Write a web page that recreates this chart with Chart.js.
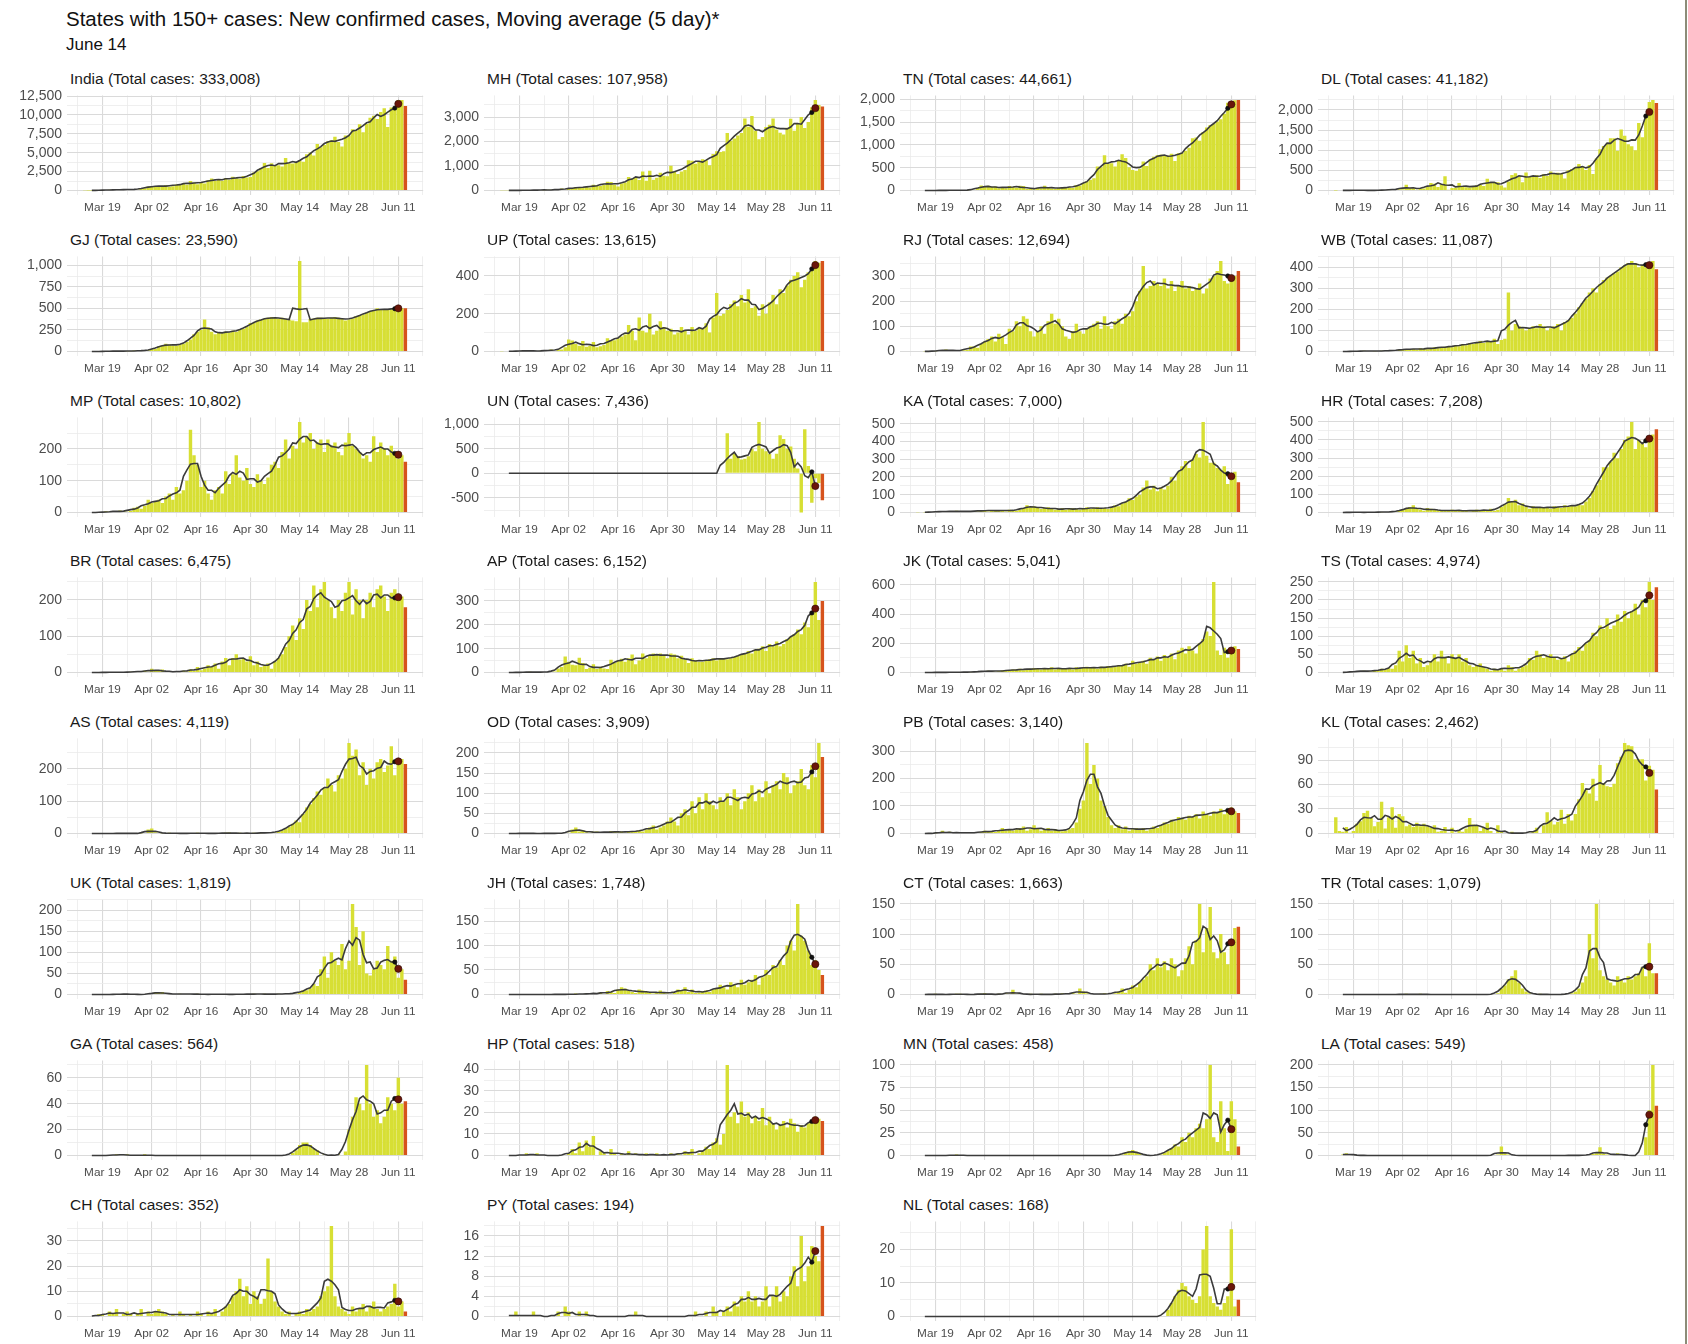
<!DOCTYPE html>
<html><head><meta charset="utf-8">
<script src="https://cdn.jsdelivr.net/npm/chart.js@4.4.1/dist/chart.umd.min.js"></script>
<style>
html,body{margin:0;padding:0;background:#fff;}
body{width:1688px;height:1344px;overflow:hidden;position:relative;font-family:"Liberation Sans",Arial,Helvetica,sans-serif;}
#mt{position:absolute;left:66px;top:7px;font-size:20.5px;color:#111;white-space:nowrap;}
#st{position:absolute;left:66px;top:35px;font-size:17px;color:#111;white-space:nowrap;}
.pt{position:absolute;font-size:15.5px;color:#1a1a1a;white-space:nowrap;line-height:18px;}
#edge{position:absolute;left:1685px;top:0;width:2px;height:1344px;background:#8c8c78;}
canvas{position:absolute;}
</style></head>
<body>
<div id="mt">States with 150+ cases: New confirmed cases, Moving average (5 day)*</div>
<div id="st">June 14</div>
<div id="edge"></div>
<script>
// ---- x axis: day 0 = Mar 14, last day (91) = Jun 13 ----
const firstDate = 'Mar 14';
const xTickDays = [5, 19, 33, 47, 61, 75, 89];
const xTickLabels = ['Mar 19', 'Apr 02', 'Apr 16', 'Apr 30', 'May 14', 'May 28', 'Jun 11'];

const states = ['India','MH','TN','DL','GJ','UP','RJ','WB','MP','UN','KA','HR','BR','AP','JK','TS',
  'AS','OD','PB','KL','UK','JH','CT','TR','GA','HP','MN','LA','CH','PY','NL'];
const totals = ['333,008','107,958','44,661','41,182','23,590','13,615','12,694','11,087','10,802','7,436',
  '7,000','7,208','6,475','6,152','5,041','4,974','4,119','3,909','3,140','2,462','1,819','1,748','1,663',
  '1,079','564','518','458','549','352','194','168'];

// ---- y tick labels per panel ----
const ticks_India = [0,2500,5000,7500,10000,12500];
const ticks_MH = [0,1000,2000,3000];
const ticks_TN = [0,500,1000,1500,2000];
const ticks_DL = [0,500,1000,1500,2000];
const ticks_GJ = [0,250,500,750,1000];
const ticks_UP = [0,200,400];
const ticks_RJ = [0,100,200,300];
const ticks_WB = [0,100,200,300,400];
const ticks_MP = [0,100,200,300];
const ticks_UN = [-500,0,500,1000];
const ticks_KA = [0,100,200,300,400,500];
const ticks_HR = [0,100,200,300,400,500];
const ticks_BR = [0,100,200];
const ticks_AP = [0,100,200,300];
const ticks_JK = [0,200,400,600];
const ticks_TS = [0,50,100,150,200,250];
const ticks_AS = [0,100,200];
const ticks_OD = [0,50,100,150,200];
const ticks_PB = [0,100,200,300];
const ticks_KL = [0,30,60,90];
const ticks_UK = [0,50,100,150,200];
const ticks_JH = [0,50,100,150];
const ticks_CT = [0,50,100,150];
const ticks_TR = [0,50,100,150];
const ticks_GA = [0,20,40,60];
const ticks_HP = [0,10,20,30,40];
const ticks_MN = [0,25,50,75,100];
const ticks_LA = [0,50,100,150,200];
const ticks_CH = [0,10,20,30];
const ticks_PY = [0,4,8,12,16];
const ticks_NL = [0,10,20];

// ---- daily new confirmed cases, Mar 14 .. Jun 13 (92 days) ----
const cases_India = [14,12,10,24,21,23,64, 86,73,102,91,87,88,168, 163,104,232,302,522,602,535,
 523,579,705,508,574,807,873, 848,759,1248,1034,835,1108,922, 1371,1580,1239,1537,1292,1667,1408,
 1835,1607,1568,1902,1705,1801,2396, 2564,2952,3656,2971,3602,3344,3339, 3175,4311,3592,3562,3726,3991,3808,
 4794,5049,4628,6154,5720,6023,6536, 6667,7111,6414,5843,7293,7300,8105, 7964,8789,7723,8821,9633,9889,9471,
 10400,10900,8400,11000,11200,12000,12000, 11200];
const cases_MH = [5,5,6,1,3,3,7, 12,10,8,23,21,12,28, 28,22,17,82,33,81,88, 145,113,120,150,117,229,210,
 187,221,352,350,232,165,286, 328,552,466,552,431,778,394, 811,440,522,729,597,583,1008,
 790,678,771,841,1233,1216,1089, 1165,1278,1230,1026,1495,1602,1576, 1606,2347,2033,2127,2250,2345,2940,
 2608,3041,2436,2091,2190,2598,2682, 2940,2487,2361,2287,2560,2933,2436, 2739,3007,2553,2800,3400,3700,3493,
 3427];
const cases_TN = [0,0,0,1,0,0,1, 3,2,3,6,8,3,6, 2,8,17,57,110,75,102, 74,86,50,69,48,96,77,
 58,106,98,31,38,25,56, 49,105,76,43,33,54,72, 66,64,52,121,104,161,203, 231,266,527,508,771,580,600,
 526,669,798,716,509,447,434, 477,639,536,688,743,776,786, 759,765,805,646,817,827,874,
 938,1149,1162,1091,1286,1384,1438, 1458,1515,1562,1685,1927,1875,1982, 1989];
const cases_DL = [1,0,0,3,2,2,7, 7,2,1,2,5,3,3, 10,23,25,23,32,32,141, 59,58,20,51,51,93,183,
 166,85,154,356,17,62,67, 186,110,78,75,92,128,138, 111,293,190,206,206,125,76, 223,384,427,349,206,448,338,
 338,381,310,406,359,472,425, 438,422,299,500,534,571,660, 591,508,635,412,792,1024,1106,
 1163,1295,1298,990,1513,1359,1150, 1100,1000,1675,1325,1800,2200,2250, 2175];
const cases_GJ = [0,0,0,0,0,0,2, 5,4,6,2,5,3,4, 10,8,5,12,14,25,30, 60,70,90,80,70,65,80,
 90,110,140,200,230,250,370, 280,230,200,220,210,230,220, 240,230,250,260,290,330,330, 360,370,380,390,400,390,380,
 390,380,370,360,350,1050,340, 340,380,380,390,390,380,380, 390,400,390,380,360,370,380,
 410,420,430,450,470,480,500, 480,490,480,490,500,510,500, 500];
const cases_UP = [1,0,2,0,2,2,4, 5,2,2,2,4,3,4, 10,3,11,10,22,63,58, 40,30,55,25,30,50,22,
 28,34,70,58,60,70,80, 90,140,110,60,180,110,100, 200,90,110,160,130,110,120, 90,100,130,110,90,130,110,
 120,120,150,100,180,310,190, 200,220,250,270,240,300,260, 330,230,240,190,250,200,260,
 300,250,330,310,350,380,400, 420,340,380,420,440,480,470, 480];
const cases_RJ = [0,0,1,0,0,1,4, 5,8,4,2,3,4,5, 6,20,20,15,30,40,50, 60,40,70,60,30,90,80,
 120,100,140,130,80,60,80, 100,70,120,150,110,130,100, 60,50,80,110,80,70,90, 100,110,120,90,140,100,90,
 120,130,110,150,140,160,200, 240,340,250,260,280,270,260, 290,250,280,240,260,280,250,
 260,240,250,270,230,250,290, 300,320,360,280,270,290,300, 320];
const cases_WB = [0,0,0,1,0,0,1, 2,3,2,2,1,2,3, 4,3,5,4,8,10,12, 10,12,8,15,12,10,16,
 20,15,18,22,25,20,30, 25,35,30,40,35,45,50, 40,50,45,60,35,55,60, 280,100,130,120,110,100,110,
 120,110,130,120,100,110,120, 130,100,140,150,160,180,210, 230,250,280,300,280,320,340,
 350,360,370,380,400,410,420, 430,420,400,410,400,420,430, 390];
const cases_MP = [0,0,0,0,0,0,4, 2,2,3,6,5,2,5, 15,18,12,20,40,30,35, 40,30,50,60,40,80,60,
 70,100,260,180,150,80,100, 60,40,70,80,60,130,90, 120,180,110,100,140,90,80, 120,100,90,110,150,160,140,
 190,230,170,210,200,285,220, 240,250,200,220,230,190,230, 210,220,190,180,220,250,210,
 200,190,170,180,160,240,190, 220,200,180,210,190,170,180, 160];
const cases_UN = [0,0,0,0,0,0,0, 0,0,0,0,0,0,0, 0,0,0,0,0,0,0, 0,0,0,0,0,0,0,
 0,0,0,0,0,0,0, 0,0,0,0,0,0,0, 0,0,0,0,0,0,0, 0,0,0,0,0,0,0,
 0,0,0,0,0,0,0, 0,820,300,400,350,280,300, 350,500,450,1050,500,450,400,
 300,400,780,700,500,550,300, 100,-800,900,150,-600,-100,-200, -550];
const cases_KA = [1,0,1,2,3,4,5, 5,6,7,4,10,5,4, 7,6,8,5,12,14,6, 12,12,10,12,6,15,12,
 10,15,25,40,30,35,30, 20,25,30,20,15,20,25, 15,20,25,20,15,20,30, 20,25,30,20,25,20,30,
 40,35,50,60,80,70,90, 100,140,180,130,150,120,140, 130,150,200,180,230,260,290,
 250,300,330,310,510,320,280, 280,250,240,260,160,200,230, 170];
const cases_HR = [0,0,0,0,1,2,0, 2,1,0,1,3,2,1, 3,2,4,5,10,13,20, 30,40,20,15,10,25,20,
 15,12,10,10,8,15,12, 10,8,12,6,10,15,12, 8,10,20,10,15,30,45, 80,60,70,40,50,30,20,
 35,25,30,30,25,20,35, 30,25,40,30,40,35,45, 40,60,80,120,150,180,250,
 250,280,330,300,350,400,420, 500,350,400,380,360,410,430, 460];
const cases_BR = [0,0,0,0,0,0,0, 1,1,1,0,0,1,2, 2,1,3,5,2,10,5, 4,8,3,2,1,3,2,
 5,3,8,4,15,6,10, 20,15,25,10,30,40,20, 40,50,35,40,30,45,20, 30,15,20,25,10,30,40,
 50,70,100,130,90,150,120, 200,170,240,180,230,250,200, 180,150,200,170,220,250,160,
 230,200,150,200,220,180,230, 240,210,170,220,230,200,210, 180];
const cases_AP = [0,0,0,0,0,1,1, 1,3,1,1,1,2,2, 3,4,17,23,67,45,32, 30,62,40,15,20,34,15,
 24,17,15,53,40,50,58, 45,60,75,35,50,80,60, 70,80,75,80,70,60,80, 75,60,70,55,40,60,50,
 45,45,50,55,60,50,60, 60,55,60,65,70,75,80, 90,80,95,100,110,90,120,
 110,130,110,120,140,150,160, 180,160,210,190,250,380,220, 300];
const cases_JK = [0,0,0,0,1,0,0, 1,2,1,0,3,2,1, 3,2,5,4,8,10,12, 10,5,8,15,12,10,20,
 20,25,15,20,25,30,25, 20,30,25,35,20,25,30, 30,25,20,35,25,30,40, 30,35,25,40,30,45,35,
 40,50,45,60,40,80,60, 70,80,60,100,90,110,80, 120,100,130,90,150,170,130,
 180,150,130,200,230,280,250, 620,150,120,170,100,140,180, 160];
const cases_TS = [0,0,1,0,1,2,4, 3,5,4,3,4,5,10, 8,12,10,20,60,30,75, 40,60,25,40,15,20,30,
 50,30,60,40,25,50,40, 50,30,40,20,15,20,25, 15,10,5,10,8,10,5, 20,15,5,10,15,20,40,
 35,60,50,40,45,50,40, 35,40,45,30,50,60,70, 60,80,90,110,100,130,120,
 150,120,130,160,140,170,150, 170,190,160,200,180,250,200, 235];
const cases_AS = [0,0,0,0,0,0,0, 0,0,0,0,1,0,0, 0,0,1,0,12,15,4, 2,1,0,2,0,1,0,
 1,0,0,1,2,0,0, 1,0,0,0,1,2,3, 0,0,2,1,0,1,2, 0,1,2,4,2,3,5,
 10,15,20,30,40,35,60, 80,90,110,130,120,140,170, 150,130,180,170,200,280,240,
 260,180,220,150,200,170,220, 230,190,210,270,180,220,230, 215];
const cases_OD = [0,0,0,0,0,0,0, 1,0,0,0,0,0,0, 1,0,0,0,1,2,10, 15,5,8,3,2,4,5,
 3,2,2,6,4,3,5, 2,4,6,5,8,5,10, 15,20,10,15,20,30,40, 30,20,50,60,45,80,50,
 90,60,100,80,70,60,90, 80,100,70,110,90,60,80, 100,120,80,110,90,130,100,
 120,130,110,150,140,100,120, 130,160,120,110,170,140,225, 190];
const cases_PB = [0,0,0,0,0,1,0, 10,3,6,0,3,2,5, 3,0,2,4,5,10,6, 8,5,10,20,10,15,10,
 15,20,25,10,15,30,20, 10,15,20,10,15,12,8, 10,15,20,40,90,120,330, 180,250,200,120,100,60,30,
 20,30,15,25,10,15,20, 15,20,10,15,25,20,30, 40,35,50,45,60,55,50,
 65,60,70,55,80,70,65, 80,75,90,70,85,95,80, 75];
const cases_KL = [20,3,2,8,1,3,12, 15,25,28,19,9,14,39, 6,20,32,7,24,21,9, 11,8,13,9,12,9,7,
 10,2,3,8,1,7,1, 4,2,6,19,11,10,3, 7,13,3,0,10,2,0, 0,2,0,0,0,1,1,
 2,7,0,10,26,16,11, 14,29,12,24,16,24,42, 62,53,49,67,40,84,62,
 58,57,61,86,94,111,108, 107,91,91,91,65,83,78, 54];
const cases_UK = [0,0,0,0,0,0,0, 0,0,0,1,1,1,1, 0,0,0,0,0,3,5, 5,6,2,0,1,1,2,
 1,0,1,1,2,0,0, 0,0,1,1,0,0,0, 1,0,0,1,0,1,2, 0,1,2,0,1,0,2,
 1,1,2,3,2,5,10, 10,15,25,20,60,90,40, 100,80,70,120,60,80,215,
 160,70,150,50,45,60,80, 70,60,115,80,90,40,60, 35];
const cases_JH = [0,0,0,0,0,0,0, 0,0,0,0,0,0,0, 0,0,0,1,0,0,0, 2,1,0,2,0,3,2,
 4,0,7,5,3,10,15, 12,8,5,3,10,8,5, 3,2,5,8,3,2,1, 3,10,8,15,5,10,3,
 4,6,8,5,10,12,20, 15,10,25,20,15,30,20, 25,30,40,20,35,50,40,
 60,55,70,60,100,110,90, 185,120,110,90,60,70,50, 40];
const cases_CT = [0,0,0,0,0,1,0, 0,0,0,0,1,1,0, 0,0,0,0,1,2,0, 0,0,1,0,2,1,8,
 1,2,0,0,1,0,0, 1,0,0,0,1,0,2, 0,1,3,1,10,5,2, 1,0,0,1,2,1,0,
 2,5,10,3,8,15,12, 20,25,30,50,40,60,45, 55,40,60,50,30,40,60,
 80,50,90,150,70,110,145, 70,60,100,70,50,90,110, 112];
const cases_TR = [0,0,0,0,0,0,0, 0,0,0,0,0,0,0, 0,0,0,0,0,0,1, 0,0,0,1,0,0,0,
 0,0,0,0,0,0,0, 0,0,0,0,0,0,0, 0,0,0,0,2,10,15, 25,30,40,20,10,5,2,
 0,0,1,0,0,0,0, 0,0,0,1,2,5,10, 20,30,100,60,150,40,30,
 25,20,15,30,25,20,30, 25,30,35,45,30,85,35, 35];
const cases_GA = [0,0,0,0,0,0,0, 0,0,1,1,0,1,0, 0,0,0,1,0,0,0, 0,0,0,0,0,0,0,
 0,0,0,0,0,0,0, 0,0,0,0,0,0,0, 0,0,0,0,0,0,0, 0,0,0,0,0,0,0,
 0,0,0,2,4,8,10, 10,8,5,4,0,1,0, 0,0,1,0,3,20,30,
 45,40,35,70,40,30,35, 25,30,45,40,35,60,40, 42];
const cases_HP = [0,0,0,0,0,0,0, 1,0,0,1,0,0,0, 0,0,0,0,0,1,3, 1,6,2,7,4,9,0,
 2,1,0,3,1,0,1, 0,2,0,1,0,0,1, 0,0,1,0,0,0,1, 0,1,0,2,1,3,0,
 1,2,4,3,6,8,5, 10,42,18,20,15,25,18, 20,15,18,16,22,14,18,
 15,12,14,16,13,17,15, 11,14,13,15,16,18,17, 16];
const cases_MN = [0,0,0,0,0,0,0, 0,0,0,0,1,0,0, 0,0,0,0,0,0,0, 0,0,0,0,0,0,0,
 0,0,0,0,0,0,0, 0,0,0,0,0,0,0, 0,0,0,0,0,0,0, 0,0,0,0,0,0,0,
 0,0,1,3,5,6,4, 2,0,0,0,0,0,1, 3,5,8,12,10,20,15,
 25,20,30,35,30,40,100, 20,15,60,30,5,60,40, 10];
const cases_LA = [0,0,2,5,3,0,1, 0,0,0,0,0,0,0, 0,0,0,0,0,0,0, 0,0,0,0,0,0,0,
 0,0,0,0,0,0,0, 0,0,0,0,0,0,0, 0,0,0,0,2,20,5, 2,0,0,0,0,0,0,
 0,0,0,0,0,0,0, 0,0,0,0,0,1,0, 0,0,2,3,5,18,4,
 2,0,3,5,2,0,0, 0,0,0,0,40,100,200, 110];
const cases_CH = [0,0,0,0,1,1,0, 2,1,3,0,1,2,1, 0,1,3,0,2,1,2, 3,2,1,0,1,0,2,
 1,0,1,0,2,1,0, 2,1,3,0,2,4,5, 8,10,15,8,12,5,10, 8,5,7,23,10,6,4,
 2,1,2,0,1,2,1, 3,2,3,4,8,10,12, 36,8,4,3,2,1,4,
 2,3,5,2,4,6,3, 2,3,4,5,13,4,6, 2];
const cases_PY = [0,0,0,0,1,0,0, 0,0,1,0,0,0,0, 0,0,1,0,2,1,0, 0,1,0,1,0,0,0,
 0,0,0,0,0,0,0, 0,0,0,1,0,0,0, 0,0,0,0,0,0,0, 0,0,0,0,0,0,1,
 0,0,1,0,2,1,0, 1,2,1,3,2,4,3, 5,3,4,2,3,6,2,
 4,6,3,5,4,8,10, 6,16,7,10,14,12,11, 18];
const cases_NL = [0,0,0,0,0,0,0, 0,0,0,0,0,0,0, 0,0,0,0,0,0,0, 0,0,0,0,0,0,0,
 0,0,0,0,0,0,0, 0,0,0,0,0,0,0, 0,0,0,0,0,0,0, 0,0,0,0,0,0,0,
 0,0,0,0,0,0,0, 0,0,0,0,0,0,0, 0,2,4,6,8,10,9,
 6,5,4,6,20,27,6, 4,3,2,4,6,26,3, 5];

// ---- panel table built from the arrays above ----
const caseArrays = [cases_India,cases_MH,cases_TN,cases_DL,cases_GJ,cases_UP,cases_RJ,cases_WB,cases_MP,cases_UN,
  cases_KA,cases_HR,cases_BR,cases_AP,cases_JK,cases_TS,cases_AS,cases_OD,cases_PB,cases_KL,cases_UK,cases_JH,
  cases_CT,cases_TR,cases_GA,cases_HP,cases_MN,cases_LA,cases_CH,cases_PY,cases_NL];
const tickArrays = [ticks_India,ticks_MH,ticks_TN,ticks_DL,ticks_GJ,ticks_UP,ticks_RJ,ticks_WB,ticks_MP,ticks_UN,
  ticks_KA,ticks_HR,ticks_BR,ticks_AP,ticks_JK,ticks_TS,ticks_AS,ticks_OD,ticks_PB,ticks_KL,ticks_UK,ticks_JH,
  ticks_CT,ticks_TR,ticks_GA,ticks_HP,ticks_MN,ticks_LA,ticks_CH,ticks_PY,ticks_NL];

// ---- layout / style ----
const COL_LEFT = [67, 484, 900, 1318];
const PLOT_W = 358, PLOT_H = 101, ROW_TOP0 = 94, ROW_STEP = 160.8;
const Y_W = 62, PAD_T = 12, PAD_R = 4, X_H = 24;
const X_MIN = -5.05, X_MAX = 96.05;
const BAR_COL = '#d7df34', LAST_COL = '#d6531d';
const GRID_MAJ = '#dadada', GRID_MIN = '#ebebeb';
const FONT = '"Liberation Sans", Arial, Helvetica, sans-serif';

function movingAverage(v) {
  const out = [];
  for (let i = 2; i < v.length - 2; i++) {
    out.push({x: i, y: (v[i-2] + v[i-1] + v[i] + v[i+1] + v[i+2]) / 5});
  }
  return out;
}
function withMinor(majors, lo, hi) {
  const step = majors[1] - majors[0];
  const ext = [majors[0] - step, ...majors, majors[majors.length-1] + step];
  const out = [];
  for (let i = 0; i < ext.length; i++) {
    if (i > 0) out.push((ext[i-1] + ext[i]) / 2);
    out.push(ext[i]);
  }
  return out.filter(v => v >= lo && v <= hi);
}

states.forEach((name, i) => {
  const c = i % 4, r = Math.floor(i / 4);
  const plotLeft = COL_LEFT[c];
  const plotTop = Math.round(ROW_TOP0 + ROW_STEP * r);
  const vals = caseArrays[i];
  const ma = movingAverage(vals);
  const lo = Math.min(0, ...vals, ...ma.map(p => p.y));
  const hi = Math.max(0, ...vals, ...ma.map(p => p.y));
  const R = hi - lo;
  const yMin = lo - 0.05 * R, yMax = hi + 0.05 * R;
  const yMaj = tickArrays[i].filter(v => v >= yMin && v <= yMax);
  const yMajSet = new Set(yMaj);
  const yAll = withMinor(tickArrays[i], yMin, yMax);
  const xMajSet = new Set(xTickDays);
  const xAll = withMinor(xTickDays, X_MIN, X_MAX);

  const t = document.createElement('div');
  t.className = 'pt';
  t.textContent = name + ' (Total cases: ' + totals[i] + ')';
  t.style.left = (plotLeft + 3) + 'px';
  t.style.top = (plotTop - 24) + 'px';
  document.body.appendChild(t);

  const cv = document.createElement('canvas');
  cv.width = Y_W + PLOT_W + PAD_R;
  cv.height = PAD_T + PLOT_H + X_H;
  cv.style.left = (plotLeft - Y_W) + 'px';
  cv.style.top = (plotTop - PAD_T) + 'px';
  document.body.appendChild(cv);

  const bars = vals.map((v, d) => ({x: d, y: v}));
  const barColors = vals.map((v, d) => d === vals.length - 1 ? LAST_COL : BAR_COL);
  const n = ma.length;

  new Chart(cv, {
    type: 'bar',
    data: {
      datasets: [
        {
          type: 'line', data: ma, order: 0,
          borderColor: '#3b3b3b', borderWidth: 1.6, tension: 0,
          pointRadius: ma.map((p, k) => k === n - 1 ? 3.6 : (k === n - 2 ? 2.2 : 0)),
          pointBackgroundColor: ma.map((p, k) => k === n - 1 ? '#6a160a' : '#111'),
          pointBorderColor: ma.map((p, k) => k === n - 1 ? '#2a0804' : '#111'),
          pointBorderWidth: 0.6
        },
        {
          type: 'bar', data: bars, order: 1,
          backgroundColor: barColors, borderWidth: 0,
          barPercentage: 0.97, categoryPercentage: 1.0
        }
      ]
    },
    options: {
      responsive: false, animation: false, devicePixelRatio: 1, events: [],
      layout: {padding: {top: PAD_T, right: PAD_R, left: 0, bottom: 0}},
      plugins: {legend: {display: false}, tooltip: {enabled: false}, title: {display: false}},
      scales: {
        x: {
          type: 'linear', min: X_MIN, max: X_MAX, offset: false,
          border: {display: false},
          grid: {
            offset: false, drawTicks: false,
            color: ctx => xMajSet.has(ctx.tick.value) ? GRID_MAJ : GRID_MIN,
            lineWidth: ctx => xMajSet.has(ctx.tick.value) ? 1.1 : 0.8
          },
          ticks: {
            autoSkip: false, maxRotation: 0, padding: 6, color: '#4d4d4d',
            font: {family: FONT, size: 11.8},
            callback: v => xMajSet.has(v) ? xTickLabels[xTickDays.indexOf(v)] : ''
          },
          afterBuildTicks: s => { s.ticks = xAll.map(v => ({value: v})); },
          afterFit: s => { s.height = X_H; }
        },
        y: {
          type: 'linear', min: yMin, max: yMax,
          border: {display: false},
          grid: {
            drawTicks: false,
            color: ctx => yMajSet.has(ctx.tick.value) ? GRID_MAJ : GRID_MIN,
            lineWidth: ctx => yMajSet.has(ctx.tick.value) ? 1.1 : 0.8
          },
          ticks: {
            autoSkip: false, padding: 5, color: '#4d4d4d',
            font: {family: FONT, size: 14},
            callback: v => yMajSet.has(v) ? v.toLocaleString('en-US') : ''
          },
          afterBuildTicks: s => { s.ticks = yAll.map(v => ({value: v})); },
          afterFit: s => { s.width = Y_W; }
        }
      }
    }
  });
});
</script>
</body></html>
